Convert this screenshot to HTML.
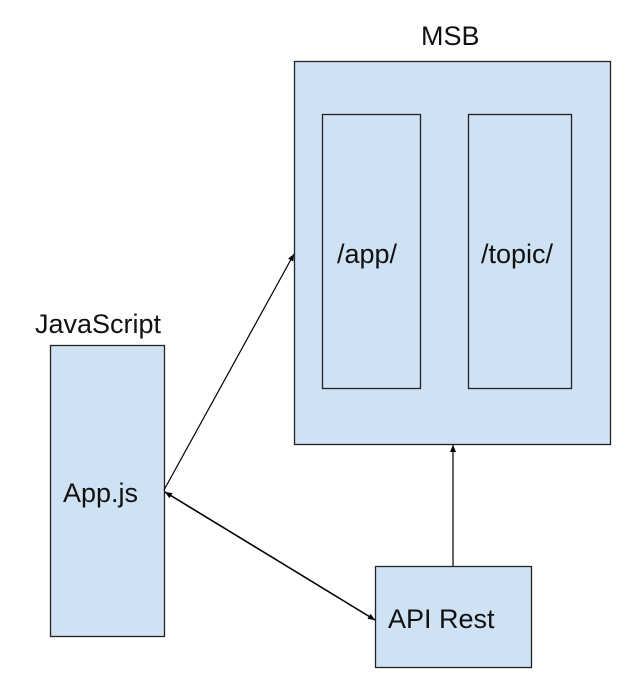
<!DOCTYPE html>
<html><head><meta charset="utf-8"><style>
html,body{margin:0;padding:0;background:#fff;}
svg{display:block;}
text{font-family:"Liberation Sans",Arial,sans-serif;font-size:27px;fill:#111;}
</style></head><body>
<svg width="639" height="684" viewBox="0 0 639 684">
<defs>
<marker id="a" markerWidth="8" markerHeight="8" refX="7" refY="4" orient="auto" markerUnits="userSpaceOnUse">
<path d="M0,1 L7,4 L0,7 Z" fill="#000"/></marker>
<marker id="b" markerWidth="8" markerHeight="8" refX="1" refY="4" orient="auto" markerUnits="userSpaceOnUse">
<path d="M8,1 L1,4 L8,7 Z" fill="#000"/></marker>
</defs>
<rect x="294.5" y="61.5" width="316" height="383" fill="#cfe2f3" stroke="#222" stroke-width="1.3"/>
<rect x="322.5" y="114.5" width="98" height="274" fill="#cfe2f3" stroke="#222" stroke-width="1.3"/>
<rect x="468.5" y="114.5" width="103" height="274" fill="#cfe2f3" stroke="#222" stroke-width="1.3"/>
<rect x="50.5" y="345.5" width="114" height="291" fill="#cfe2f3" stroke="#222" stroke-width="1.3"/>
<rect x="375.5" y="566.5" width="156" height="101" fill="#cfe2f3" stroke="#222" stroke-width="1.3"/>
<line x1="164" y1="490" x2="294" y2="254" stroke="#000" stroke-width="1.2" marker-end="url(#a)"/>
<line x1="165" y1="492" x2="375" y2="620" stroke="#000" stroke-width="1.6" marker-start="url(#b)" marker-end="url(#a)"/>
<line x1="453" y1="566" x2="453" y2="445" stroke="#000" stroke-width="1.2" marker-end="url(#a)"/>
<text x="421" y="45">MSB</text>
<text x="35" y="333">JavaScript</text>
<text x="63" y="502">App.js</text>
<text x="337" y="263">/app/</text>
<text x="481" y="263">/topic/</text>
<text x="388" y="628">API Rest</text>
</svg>
</body></html>
